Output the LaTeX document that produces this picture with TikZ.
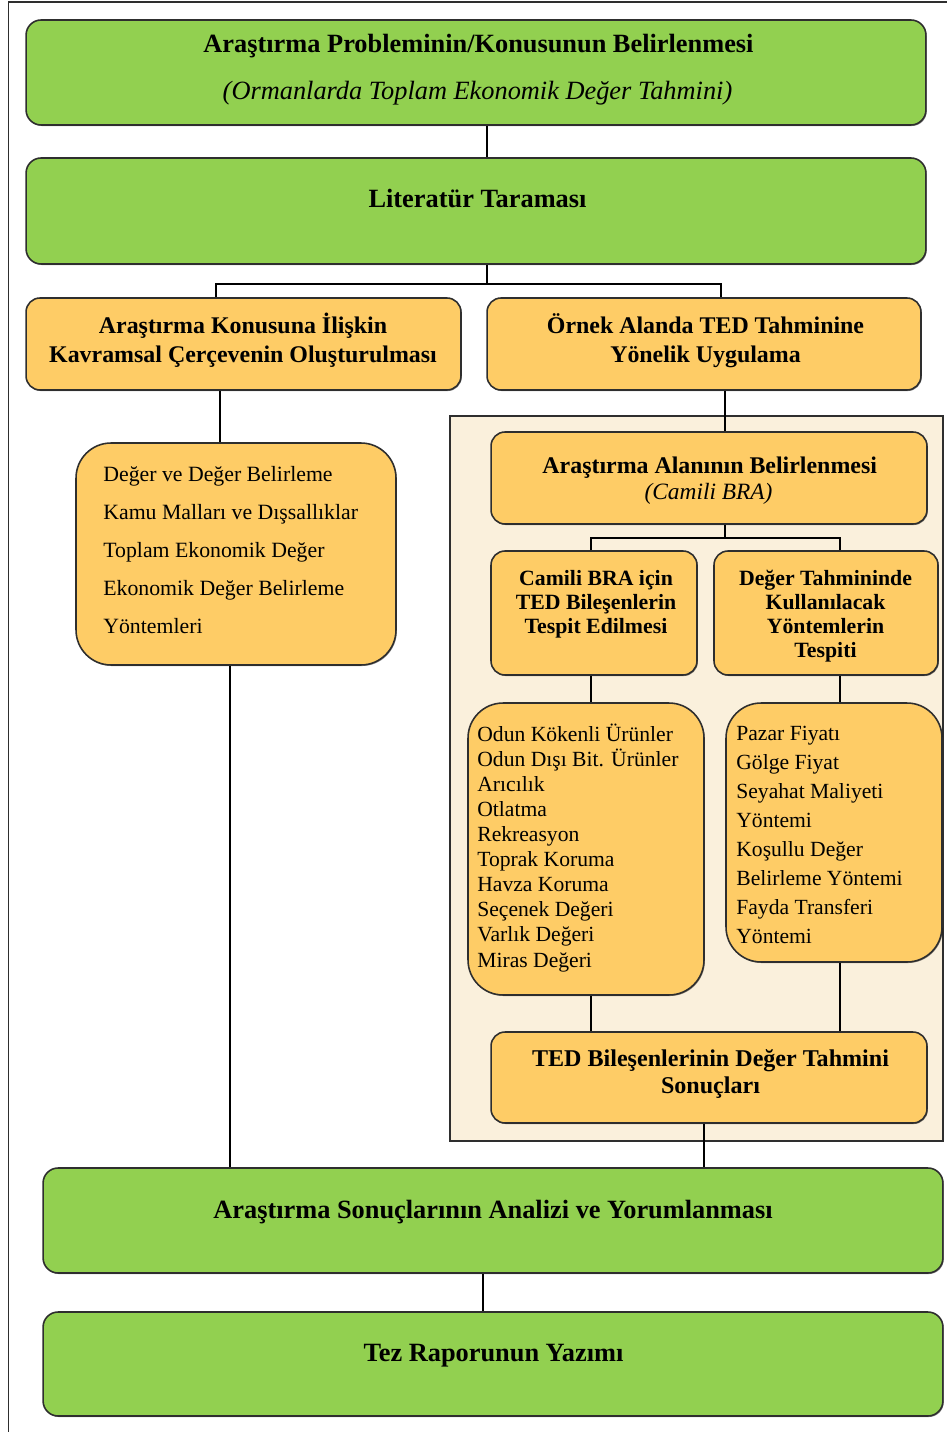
\documentclass[tikz,border=0pt]{standalone}
\usepackage{fontspec}
\setmainfont{Liberation Serif}
\usetikzlibrary{shadows}
\definecolor{boxgreen}{HTML}{92D050}
\definecolor{boxgold}{HTML}{FECC66}
\definecolor{panelbeige}{HTML}{FAF0DC}
\definecolor{edgegray}{HTML}{2E2E2E}
\begin{document}
\begin{tikzpicture}[x=0.02cm,y=-0.02cm,
  box/.style={draw=edgegray, line width=0.9pt, inner sep=0pt,
    drop shadow={shadow xshift=0.5pt, shadow yshift=-0.6pt, opacity=0.45, fill=black}},
  greenbox/.style={box, fill=boxgreen, rounded corners=0.3cm},
  goldbox/.style={box, fill=boxgold, rounded corners=0.28cm},
  listbox/.style={box, fill=boxgold, rounded corners=0.7cm},
  panelbox/.style={draw=edgegray, line width=0.9pt, fill=panelbeige, inner sep=0pt},
  txt/.style={inner sep=0pt, anchor=base, align=center},
  lst/.style={inner sep=0pt, anchor=base west, align=left},
  link/.style={draw=black, line width=0.9pt},
  bigbold/.style={font=\fontsize{15}{18}\selectfont\bfseries},
  bigit/.style={font=\fontsize{15}{18}\selectfont\itshape},
]
\useasboundingbox (0,0) rectangle (947,1432);
% page frame
\draw[edgegray, line width=0.8pt] (8.5,1432) -- (8.5,2) -- (947,2);

% beige panel holding the case-study steps
\node[panelbox, minimum width=9.86cm, minimum height=14.5cm] (panel) at (696.5,778.5) {};

% boxes
\node[greenbox, minimum width=18cm, minimum height=2.1cm] (b1) at (476,72.5) {};
\node[greenbox, minimum width=18cm, minimum height=2.12cm] (b2) at (476,211) {};
\node[goldbox, minimum width=8.7cm, minimum height=1.84cm] (bL) at (243.5,344) {};
\node[goldbox, minimum width=8.68cm, minimum height=1.84cm] (bR) at (704,344) {};
\node[listbox, minimum width=6.4cm, minimum height=4.44cm] (lL) at (236,554) {};
\node[goldbox, minimum width=8.72cm, minimum height=1.84cm] (bA) at (709,478) {};
\node[goldbox, minimum width=4.12cm, minimum height=2.48cm] (bC) at (594,613) {};
\node[goldbox, minimum width=4.48cm, minimum height=2.48cm] (bD) at (826,613) {};
\node[listbox, minimum width=4.72cm, minimum height=5.84cm] (lA) at (586,849) {};
\node[listbox, minimum width=4.32cm, minimum height=5.18cm] (lB) at (834,832.5) {};
\node[goldbox, minimum width=8.72cm, minimum height=1.82cm] (bT) at (709,1077.5) {};
\node[greenbox, minimum width=18cm, minimum height=2.1cm] (b9) at (493,1220.5) {};
\node[greenbox, minimum width=18cm, minimum height=2.08cm] (b10) at (493,1364) {};

% texts (multi-line nodes are anchored on their last baseline)
\node[txt, bigbold] (t1a) at (478.5,53) {Araştırma Probleminin/Konusunun Belirlenmesi};
\node[txt, bigit] (t1b) at (477.5,100) {(Ormanlarda Toplam Ekonomik Değer Tahmini)};
\node[txt, bigbold] (t2) at (477.5,208) {Literatür Taraması};
\node[txt, font=\fontsize{13.6}{17}\selectfont\bfseries] (tL) at (243,363)
  {Araştırma Konusuna İlişkin\\Kavramsal Çerçevenin Oluşturulması};
\node[txt, font=\fontsize{13.6}{17}\selectfont\bfseries] (tR) at (705.5,363)
  {Örnek Alanda TED Tahminine\\Yönelik Uygulama};
\node[lst, font=\fontsize{12.4}{21.5}\selectfont] (tlL) at (103,633)
  {Değer ve Değer Belirleme\\Kamu Malları ve Dışsallıklar\\Toplam Ekonomik Değer\\Ekonomik Değer Belirleme\\Yöntemleri};
\node[txt, font=\fontsize{13.6}{16}\selectfont\bfseries] (tAa) at (709.7,473) {Araştırma Alanının Belirlenmesi};
\node[txt, font=\fontsize{13.3}{16}\selectfont\itshape] (tAb) at (708.5,499) {(Camili BRA)};
\node[txt, font=\fontsize{12.4}{13.6}\selectfont\bfseries] (tC) at (596,633)
  {Camili BRA için\\TED Bileşenlerin\\Tespit Edilmesi};
\node[txt, font=\fontsize{12.4}{13.6}\selectfont\bfseries] (tD) at (825.5,657)
  {Değer Tahmininde\\Kullanılacak\\Yöntemlerin\\Tespiti};
\node[lst, font=\fontsize{12.3}{14.25}\selectfont] (tlA) at (477,967)
  {Odun Kökenli Ürünler\\Odun Dışı Bit. Ürünler\\Arıcılık\\Otlatma\\Rekreasyon\\Toprak Koruma\\Havza Koruma\\Seçenek Değeri\\Varlık Değeri\\Miras Değeri};
\node[lst, font=\fontsize{12.3}{16.44}\selectfont] (tlB) at (736,943)
  {Pazar Fiyatı\\Gölge Fiyat\\Seyahat Maliyeti\\Yöntemi\\Koşullu Değer\\Belirleme Yöntemi\\Fayda Transferi\\Yöntemi};
\node[txt, font=\fontsize{13.7}{15.3}\selectfont\bfseries] (tT) at (710.5,1093)
  {TED Bileşenlerinin Değer Tahmini\\Sonuçları};
\node[txt, bigbold] (t9) at (493,1218) {Araştırma Sonuçlarının Analizi ve Yorumlanması};
\node[txt, bigbold] (t10) at (493.5,1361) {Tez Raporunun Yazımı};

% connector guide positions
\coordinate (xMain) at (487,0);
\coordinate (jTop) at (487,284);
\coordinate (jTopL) at (216,284);
\coordinate (jTopR) at (721,284);
\coordinate (xLa) at (220,0);
\coordinate (xLb) at (230,0);
\coordinate (xR) at (725,0);
\coordinate (jMid) at (725,538);
\coordinate (jMidL) at (591,538);
\coordinate (jMidR) at (840,538);
\coordinate (xTo) at (704,0);
\coordinate (xEnd) at (483,0);

% connectors
\draw[link] (b1.south -| xMain) -- (b2.north -| xMain);
\draw[link] (b2.south -| jTop) -- (jTop);
\draw[link] (bL.north -| jTopL) -- (jTopL) -- (jTopR) -- (bR.north -| jTopR);
\draw[link] (bL.south -| xLa) -- (lL.north -| xLa);
\draw[link] (lL.south -| xLb) -- (b9.north -| xLb);
\draw[link] (bR.south -| xR) -- (bA.north -| xR);
\draw[link] (bA.south -| jMid) -- (jMid);
\draw[link] (bC.north -| jMidL) -- (jMidL) -- (jMidR) -- (bD.north -| jMidR);
\draw[link] (bC.south -| jMidL) -- (lA.north -| jMidL);
\draw[link] (bD.south -| jMidR) -- (lB.north -| jMidR);
\draw[link] (lA.south -| jMidL) -- (bT.north -| jMidL);
\draw[link] (lB.south -| jMidR) -- (bT.north -| jMidR);
\draw[link] (bT.south -| xTo) -- (b9.north -| xTo);
\draw[link] (b9.south -| xEnd) -- (b10.north -| xEnd);
\end{tikzpicture}
\end{document}
